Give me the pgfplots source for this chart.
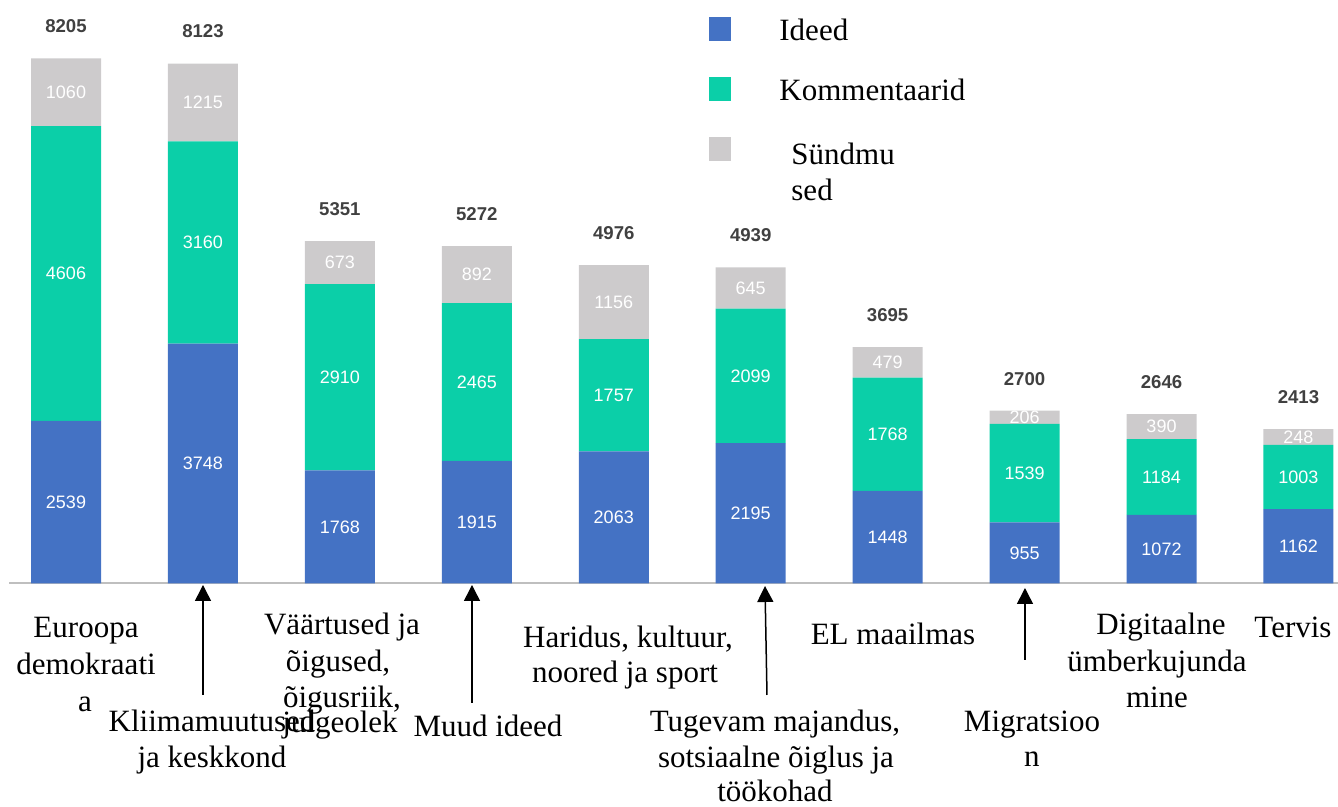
\documentclass[border=0pt]{standalone}
\usepackage{fontspec}
\setmainfont{Liberation Serif}
\newfontfamily\arial{Liberation Sans}
\usepackage{pgfplots}
\pgfplotsset{compat=1.18}
\usepackage{pgfplotstable}
\usetikzlibrary{arrows.meta}
\definecolor{cIdeed}{HTML}{4472C4}
\definecolor{cKomm}{HTML}{0BCFA8}
\definecolor{cSund}{HTML}{CDCBCC}
\definecolor{cTot}{HTML}{404040}
\definecolor{cAxis}{HTML}{BFBFBF}

\pgfplotstableread{
x ideed komm sund
0 2539 4606 1060
1 3748 3160 1215
2 1768 2910 673
3 1915 2465 892
4 2063 1757 1156
5 2195 2099 645
6 1448 1768 479
7 955 1539 206
8 1072 1184 390
9 1162 1003 248
}\data

\newcommand\labfont{\fontsize{15.5}{18}\selectfont}
\pgfplotsset{
  common/.style={
    scale only axis, width=669pt, height=403.5pt,
    xmin=-0.482, xmax=9.289, ymin=-3492, ymax=9117,
    hide axis, clip=false,
    /pgf/number format/1000 sep={},
    /pgf/number format/fixed,
    /pgf/number format/precision=0,
    /pgf/number format/assume math mode=true,
  },
  lab/.style={draw=none, mark=none, nodes near coords, point meta=explicit,
    every node near coord/.append style={anchor=center, inner sep=0pt,
      font=\arial\fontsize{9}{10}\selectfont, text=white}},
  sq/.style={legend image code/.code={\fill[##1] (0pt,-4.5pt) rectangle (11pt,7.5pt);}},
  sqb/.style={legend image code/.code={\fill[##1] (0pt,-2.5pt) rectangle (11pt,9.5pt);}},
}

\begin{document}
\begin{tikzpicture}
\begin{axis}[common, ybar stacked, bar width=35pt,
  legend cell align=left,
  legend style={at={(0.5299,0.979)}, anchor=north west, draw=none, fill=none,
    inner sep=0pt, font=\labfont, row sep=15.5pt, column sep=0pt,
    /tikz/every odd column/.append style={column sep=24pt},
    nodes={inner sep=0pt, text height=11pt, text depth=3pt}},
]
\addplot[fill=cIdeed, draw=none, sq] table[x=x, y=ideed]{\data};
\addplot[fill=cKomm, draw=none, sq] table[x=x, y=komm]{\data};
\addplot[fill=cSund, draw=none, sqb] table[x=x, y=sund]{\data};
\legend{Ideed, Kommentaarid, \hspace{6pt}\parbox[t]{4cm}{Sündmu\\sed}}
\draw[color=cAxis, line width=1pt] (axis cs:-0.416,0) -- (axis cs:9.289,0);
\end{axis}
\begin{axis}[common]
\addplot[lab] table[x=x, y expr=\thisrow{ideed}/2, meta=ideed]{\data};
\addplot[lab] table[x=x, y expr=\thisrow{ideed}+\thisrow{komm}/2, meta=komm]{\data};
\addplot[lab] table[x=x, y expr=\thisrow{ideed}+\thisrow{komm}+\thisrow{sund}/2, meta=sund]{\data};
\addplot[lab, point meta=y, every node near coord/.append style={text=cTot,
    font=\arial\bfseries\fontsize{9.3}{10}\selectfont, yshift=16pt}]
  table[x=x, y expr=\thisrow{ideed}+\thisrow{komm}+\thisrow{sund}]{\data};
\end{axis}
\begin{scope}[x=0.5pt, y=-0.5pt, shift={(current axis.north west)},
  every node/.style={font=\labfont, anchor=base, inner sep=0pt}]
\node at (86,638) {Euroopa};
\node at (86,675) {demokraati};
\node at (85,712) {a};
\node at (212,732) {Kliimamuutused};
\node at (212,768) {ja keskkond};
\node at (342,635) {Väärtused ja};
\node at (338,672) {õigused,};
\node at (342,708) {õigusriik,};
\node at (340,733) {julgeolek};
\node at (488,737) {Muud ideed};
\node at (628,648) {Haridus, kultuur,};
\node at (625,683) {noored ja sport};
\node at (775,732) {Tugevam majandus,};
\node at (776,768) {sotsiaalne õiglus ja};
\node at (775,802) {töökohad};
\node at (893,645) {EL maailmas};
\node at (1032,732) {Migratsioo};
\node at (1032,767) {n};
\node at (1161,635) {Digitaalne};
\node at (1157,672) {ümberkujunda};
\node at (1157,708) {mine};
\node at (1293,638) {Tervis};
\begin{scope}[-{Triangle[width=8pt,length=8pt]}, line width=0.75pt]
\draw (203,695) -- (203,585);
\draw (472,703) -- (472,585);
\draw (767,695) -- (765,586);
\draw (1025,660) -- (1025,588);
\end{scope}
\end{scope}
\pgfresetboundingbox
\path[use as bounding box] (current axis.south west) rectangle (current axis.north east);
\end{tikzpicture}
\end{document}
